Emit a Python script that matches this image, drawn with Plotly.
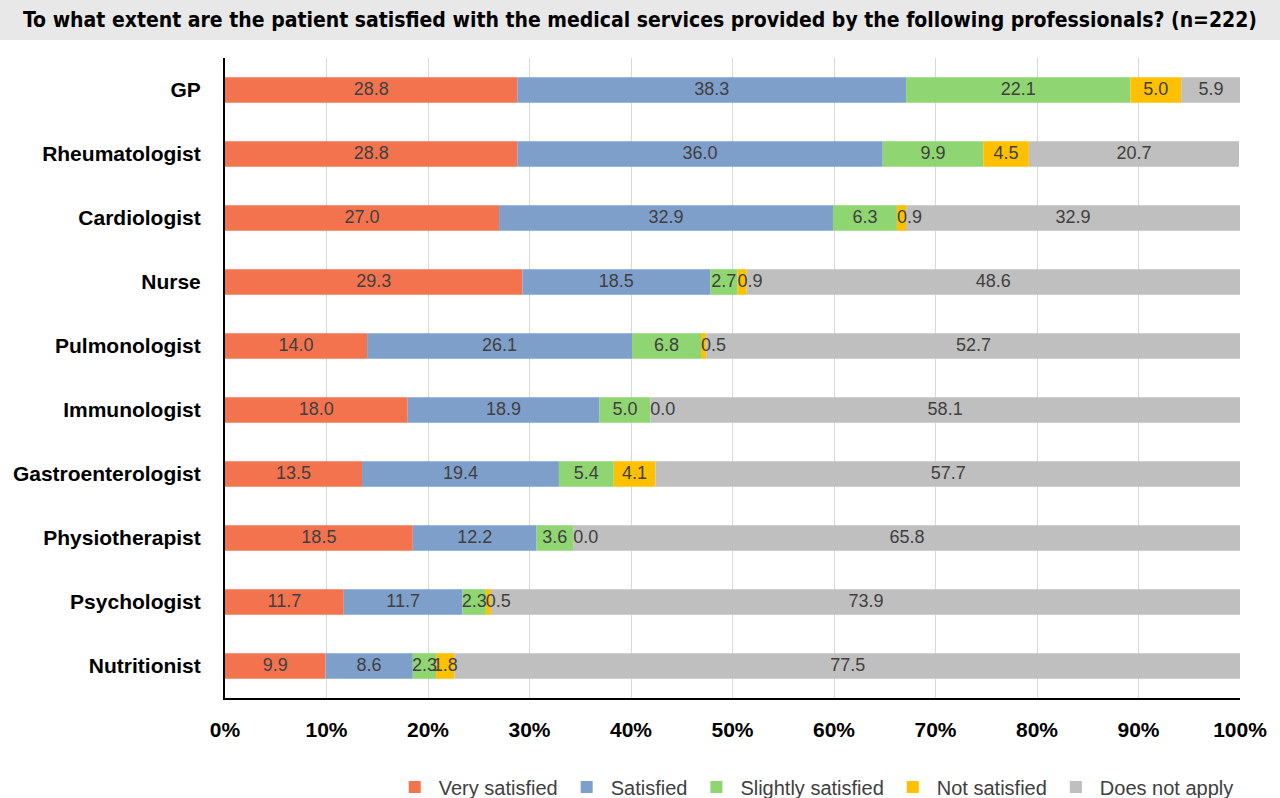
import plotly.graph_objects as go

professionals = ["GP", "Rheumatologist", "Cardiologist", "Nurse", "Pulmonologist",
                 "Immunologist", "Gastroenterologist", "Physiotherapist",
                 "Psychologist", "Nutritionist"]

very_satisfied = [28.8, 28.8, 27.0, 29.3, 14.0, 18.0, 13.5, 18.5, 11.7, 9.9]
satisfied = [38.3, 36.0, 32.9, 18.5, 26.1, 18.9, 19.4, 12.2, 11.7, 8.6]
slightly_satisfied = [22.1, 9.9, 6.3, 2.7, 6.8, 5.0, 5.4, 3.6, 2.3, 2.3]
not_satisfied = [5.0, 4.5, 0.9, 0.9, 0.5, 0.0, 4.1, 0.0, 0.5, 1.8]
does_not_apply = [5.9, 20.7, 32.9, 48.6, 52.7, 58.1, 57.7, 65.8, 73.9, 77.5]

series = [
    ("Very satisfied", very_satisfied, "#F4734F"),
    ("Satisfied", satisfied, "#7F9FCB"),
    ("Slightly satisfied", slightly_satisfied, "#8FD672"),
    ("Not satisfied", not_satisfied, "#FFC000"),
    ("Does not apply", does_not_apply, "#BFBFBF"),
]

COND = "DejaVu Sans Condensed, Liberation Sans, Arial, sans-serif"
PLAIN = "Liberation Sans, Arial, sans-serif"

fig = go.Figure()
base = [0.0] * len(professionals)
for name, vals, color in series:
    fig.add_trace(go.Bar(
        y=professionals, x=vals, base=base, orientation="h", name=name,
        marker=dict(color=color, line=dict(width=0)),
    ))
    # labels centred on each segment; tiny (<1) segments get the label
    # starting at the segment edge, as Excel drew them
    xs = [b if v < 1 else b + v / 2 for b, v in zip(base, vals)]
    pos = ["middle right" if v < 1 else "middle center" for v in vals]
    fig.add_trace(go.Scatter(
        y=professionals, x=xs, mode="text", text=[f"{v:.1f}" for v in vals],
        textposition=pos,
        textfont=dict(size=18, color="#404040", family=PLAIN),
        showlegend=False, hoverinfo="skip", cliponaxis=False,
    ))
    base = [b + v for b, v in zip(base, vals)]

fig.update_layout(
    width=1280, height=798,
    paper_bgcolor="white", plot_bgcolor="white",
    margin=dict(l=225, r=40, t=58, b=100, autoexpand=False),
    barmode="overlay", bargap=0.6,
    font=dict(family=PLAIN, color="#404040"),
    title=dict(
        text="<b>To what extent are the patient satisfied with the medical services provided by the following professionals? (n=222)</b>",
        x=0.5, xanchor="center", xref="container", y=1 - 20 / 798, yanchor="middle",
        font=dict(size=21, color="black", family=COND),
    ),
    legend=dict(
        orientation="h", x=0.581, xanchor="center", y=-89 / 640, yanchor="middle",
        font=dict(size=20, color="#404040", family=PLAIN), traceorder="normal",
        itemwidth=38,
    ),
    shapes=[dict(type="rect", xref="paper", yref="paper",
                 x0=-225 / 1015, x1=1055 / 1015, y0=(698 - 40) / 640, y1=698 / 640,
                 fillcolor="#E8E8E8", line=dict(width=0), layer="below")],
)

fig.update_xaxes(
    range=[0, 100], dtick=10, tickprefix="<b>", ticksuffix="%</b>",
    showgrid=True, gridcolor="#D9D9D9", gridwidth=1, zeroline=False,
    showline=True, linecolor="black", linewidth=2, automargin=False,
    tickfont=dict(size=21, color="black", family=PLAIN), ticks="", ticklabelstandoff=12,
)
fig.update_yaxes(
    autorange="reversed", showline=True, linecolor="black", linewidth=2,
    automargin=False, tickprefix="<b>", ticksuffix="</b>",
    tickfont=dict(size=21, color="black", family=PLAIN), ticks="",
    ticklabelstandoff=18,
)

# page body has an 8px default margin; drop it so the figure sits at the corner
fig.write_html("out.html", config={"displayModeBar": False},
               post_script="document.body.style.margin='0px';")
